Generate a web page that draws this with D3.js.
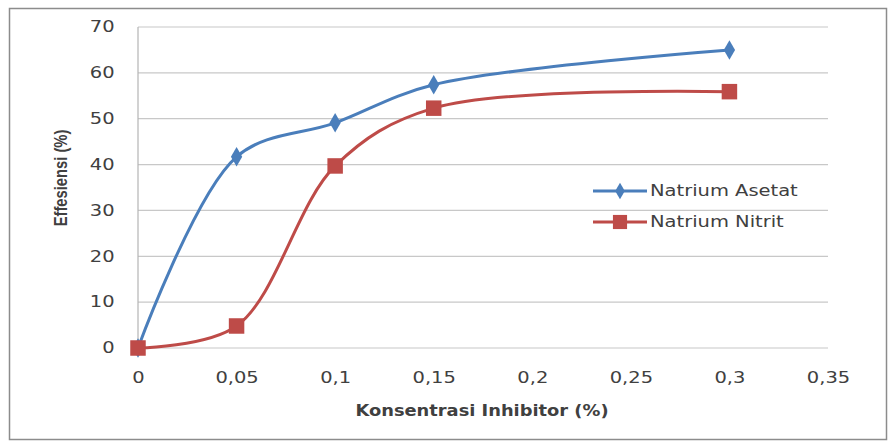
<!DOCTYPE html>
<html>
<head>
<meta charset="utf-8">
<script src="https://cdn.jsdelivr.net/npm/d3@7"></script>
<style>
  body { margin: 0; background: #fff; }
  text { font-family: "DejaVu Sans", Verdana, sans-serif; fill: #404040; }
</style>
</head>
<body>
<div id="chart"></div>
<script>
// chart data
var concentrations = [0, 0.05, 0.1, 0.15, 0.3];
var asetatValues = [0, 41.7, 49.1, 57.4, 65];
var nitritValues = [0, 4.8, 39.7, 52.3, 55.9];
var seriesNames = ["Natrium Asetat", "Natrium Nitrit"];
var xTicks = [0, 0.05, 0.1, 0.15, 0.2, 0.25, 0.3, 0.35];
var yTicks = [0, 10, 20, 30, 40, 50, 60, 70];

var svgWidth = 888;
var svgHeight = 443;

var margin = { top: 27, right: 60, bottom: 95, left: 138 };
var width = 828 - margin.left;
var height = 348 - margin.top;

// the picture's fonts look stretched sideways
var stretch = 1.3;

var svg = d3.select("#chart")
  .append("svg")
  .attr("width", svgWidth)
  .attr("height", svgHeight);

// outer frame
svg.append("rect")
  .attr("x", 9.5)
  .attr("y", 8.5)
  .attr("width", 877)
  .attr("height", 431)
  .attr("fill", "none")
  .attr("stroke", "#8c8c8c")
  .attr("stroke-width", 1.5);

var chartGroup = svg.append("g")
  .attr("transform", `translate(${margin.left}, ${margin.top})`);

var xScale = d3.scaleLinear().domain([0, 0.35]).range([0, width]);
var yScale = d3.scaleLinear().domain([0, 70]).range([height, 0]);

// gridlines
chartGroup.append("g")
  .selectAll("line")
  .data(yTicks)
  .enter()
  .append("line")
  .attr("x1", 0)
  .attr("x2", width)
  .attr("y1", d => yScale(d))
  .attr("y2", d => yScale(d))
  .attr("stroke", "#c8c8c8")
  .attr("stroke-width", 1.2);

// y axis line
chartGroup.append("line")
  .attr("x1", 0).attr("x2", 0)
  .attr("y1", 0).attr("y2", height)
  .attr("stroke", "#b4b4b4")
  .attr("stroke-width", 1.2);

var fmt = d => String(d).replace(".", ",");

var xAxis = chartGroup.append("g")
  .attr("transform", `translate(0, ${height})`)
  .call(d3.axisBottom(xScale).tickValues(xTicks).tickFormat(fmt).tickSize(0).tickPadding(24));
xAxis.select(".domain").remove();
xAxis.selectAll("text")
  .style("font-size", "15px")
  .attr("fill", "#404040")
  .attr("transform", `scale(${stretch},1)`);

var yAxis = chartGroup.append("g")
  .call(d3.axisLeft(yScale).tickValues(yTicks).tickSize(0).tickPadding(18));
yAxis.select(".domain").remove();
yAxis.selectAll("text")
  .style("font-size", "15px")
  .attr("fill", "#404040")
  .attr("transform", `scale(${stretch},1)`);

// axis titles
svg.append("text")
  .attr("transform", "translate(67, 178) rotate(-90) scale(0.82,1)")
  .attr("text-anchor", "middle")
  .style("font-size", "18px")
  .style("font-weight", "bold")
  .style("font-family", "'Liberation Sans', Arial, sans-serif")
  .attr("fill", "#262626")
  .text("Effesiensi (%)");

svg.append("text")
  .attr("transform", "translate(482, 416) scale(1.19,1)")
  .attr("text-anchor", "middle")
  .style("font-size", "15px")
  .style("font-weight", "bold")
  .attr("fill", "#262626")
  .text("Konsentrasi Inhibitor (%)");

var series = [
  { name: seriesNames[0], values: asetatValues, color: "#4a7ebb", marker: d3.symbolDiamond, size: 110 },
  { name: seriesNames[1], values: nitritValues, color: "#be4b48", marker: d3.symbolSquare, size: 240 }
];

var line = d3.line()
  .x(d => xScale(d.x))
  .y(d => yScale(d.y))
  .curve(d3.curveCatmullRom.alpha(0.5));

series.forEach(function(s) {
  var pts = concentrations.map((c, i) => ({ x: c, y: s.values[i] }));
  chartGroup.append("path")
    .datum(pts)
    .attr("d", line)
    .attr("fill", "none")
    .attr("stroke", s.color)
    .attr("stroke-width", 3);
  s.pts = pts;
});

series.forEach(function(s) {
  chartGroup.selectAll(null)
    .data(s.pts)
    .enter()
    .append("path")
    .attr("d", d3.symbol().type(s.marker).size(s.size))
    .attr("transform", d => `translate(${xScale(d.x)}, ${yScale(d.y)})`)
    .attr("fill", s.color);
});

// legend
var legend = svg.append("g")
  .attr("transform", "translate(593, 191)");

series.forEach(function(s, i) {
  var g = legend.append("g").attr("transform", `translate(0, ${i * 31})`);
  g.append("line")
    .attr("x1", 0).attr("x2", 54)
    .attr("stroke", s.color)
    .attr("stroke-width", 3);
  g.append("path")
    .attr("d", d3.symbol().type(s.marker).size(i === 0 ? 80 : 200))
    .attr("transform", "translate(27, 0)")
    .attr("fill", s.color);
  g.append("text")
    .attr("transform", `translate(57, 0) scale(${stretch},1)`)
    .attr("dy", "0.35em")
    .style("font-size", "15px")
    .attr("fill", "#404040")
    .text(s.name);
});
</script>
</body>
</html>
